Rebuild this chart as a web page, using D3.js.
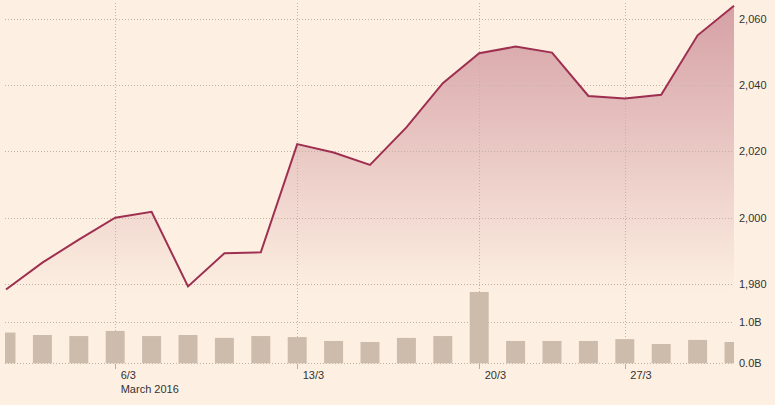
<!DOCTYPE html>
<html><head><meta charset="utf-8">
<script src="https://cdn.jsdelivr.net/npm/d3@7"></script>
<style>
html,body{margin:0;padding:0;background:#fdf0e2;}
svg{display:block;}
</style></head>
<body>
<svg id="c" width="775" height="405"></svg>
<script>
const dates = ["1/3","2/3","3/3","4/3","7/3","8/3","9/3","10/3","11/3","14/3","15/3","16/3","17/3","18/3","21/3","22/3","23/3","24/3","28/3","29/3","30/3"];
const prices = [1978.35,1986.45,1993.40,1999.99,2001.76,1979.26,1989.26,1989.57,2022.19,2019.64,2015.93,2027.22,2040.59,2049.58,2051.60,2049.80,2036.71,2035.94,2037.05,2055.01,2063.95];
const volumes = [0.75,0.69,0.665,0.79,0.665,0.69,0.62,0.665,0.64,0.545,0.52,0.62,0.665,1.74,0.545,0.545,0.545,0.59,0.47,0.57,0.52];
const priceTicks = [1980,2000,2020,2040,2060];
const volTicks = [0,1];
const xTickDates = ["4/3","11/3","18/3","24/3"];
const xTickLabels = ["6/3","13/3","20/3","27/3"];

const svg = d3.select("#c");
const bg = "#fdf0e2", claret = "#9e2f50", gridC = "#c4b3a4", textC = "#333";
const left = 5, right = 734;

const x = d3.scalePoint().domain(dates).range([6, 734]);
const y = d3.scaleLinear().domain([1980, 2060]).range([284, 18.75]);
const yv = d3.scaleLinear().domain([0, 1]).range([363.3, 322.3]);

svg.append("rect").attr("width",775).attr("height",405).attr("fill",bg);

const defs = svg.append("defs");
const g = defs.append("linearGradient").attr("id","fillg")
  .attr("gradientUnits","userSpaceOnUse").attr("x1",0).attr("x2",0).attr("y1",0).attr("y2",296);
g.append("stop").attr("offset","0%").attr("stop-color",claret).attr("stop-opacity",0.42);
g.append("stop").attr("offset","100%").attr("stop-color",claret).attr("stop-opacity",0.0);
defs.append("clipPath").attr("id","clip").append("rect").attr("x",left).attr("y",0).attr("width",right-left).attr("height",405);

// area
const area = d3.area().x((d,i)=>x(dates[i])).y0(296).y1(d=>y(d));
svg.append("path").datum(prices).attr("d",area).attr("fill","url(#fillg)");

// horizontal grid
const gridG = svg.append("g");
priceTicks.forEach(t=>{
  gridG.append("line").attr("x1",left).attr("x2",733).attr("y1",Math.round(y(t))+0.5).attr("y2",Math.round(y(t))+0.5)
    .attr("stroke",gridC).attr("stroke-dasharray","1,2");
});
volTicks.forEach(t=>{
  gridG.append("line").attr("x1",left).attr("x2",733).attr("y1",Math.round(yv(t))+0.5).attr("y2",Math.round(yv(t))+0.5)
    .attr("stroke",gridC).attr("stroke-dasharray","1,2");
});
// vertical grid
xTickDates.forEach(d=>{
  const xx = Math.round(x(d))+0.5;
  gridG.append("line").attr("x1",xx).attr("x2",xx).attr("y1",3).attr("y2",363)
    .attr("stroke",gridC).attr("stroke-dasharray","1,2");
});

// bars
svg.append("g").attr("clip-path","url(#clip)").selectAll("rect").data(volumes).join("rect")
  .attr("x",(d,i)=>x(dates[i])-9.5).attr("width",19)
  .attr("y",d=>yv(d)).attr("height",d=>yv(0)-yv(d))
  .attr("fill","#cdbcab");

// line
const line = d3.line().x((d,i)=>x(dates[i])).y(d=>y(d));
svg.append("path").datum(prices).attr("d",line).attr("fill","none")
  .attr("stroke",claret).attr("stroke-width",2).attr("stroke-linejoin","miter");

// x axis ticks
xTickDates.forEach((d,i)=>{
  const xx = Math.round(x(d))+0.5;
  svg.append("line").attr("x1",xx).attr("x2",xx).attr("y1",364).attr("y2",369).attr("stroke","#bbaa9a");
  svg.append("text").attr("x",x(d)+5.5).attr("y",379).text(xTickLabels[i])
    .attr("font-family","Liberation Sans, Arial, sans-serif").attr("font-size",11).attr("fill",textC);
});
svg.append("text").attr("x",x("4/3")+5.5).attr("y",393).text("March 2016")
  .attr("font-family","Liberation Sans, Arial, sans-serif").attr("font-size",11).attr("fill",textC);

// right axis labels
const fmt = d3.format(",");
priceTicks.forEach(t=>{
  svg.append("text").attr("x",739).attr("y",y(t)+4).text(fmt(t))
    .attr("font-family","Liberation Sans, Arial, sans-serif").attr("font-size",11).attr("fill",textC);
});
volTicks.forEach(t=>{
  svg.append("text").attr("x",739).attr("y",yv(t)+4).text(d3.format(".1f")(t)+"B")
    .attr("font-family","Liberation Sans, Arial, sans-serif").attr("font-size",11).attr("fill",textC);
});
</script>
</body></html>
